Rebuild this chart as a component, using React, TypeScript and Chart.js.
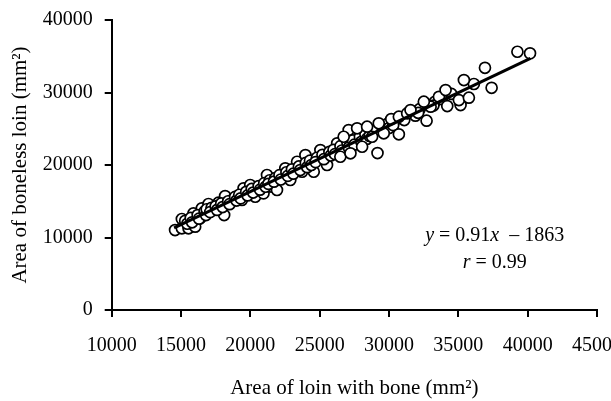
import { useEffect, useRef } from "react";
import { Chart, registerables } from "chart.js";

Chart.register(...registerables);

// Area of loin with bone (mm^2)
const boneAreaX = [
  14570, 15060, 15060, 15540, 16020, 15900, 16380, 16500, 16980, 17340,
  17700, 18110, 18180, 18670, 19390, 19510, 19990, 20350, 20950, 21200,
  21560, 21920, 22280, 22520, 22880, 23370, 23730, 23970, 24570, 25050,
  25530, 26260, 26490, 26860, 27090,
  15300, 15450, 15700, 15800, 16200, 16300, 16700, 16800, 16850, 17200,
  17100, 17500, 17600, 17900, 18000, 18400, 18500, 18900, 19000, 19200,
  19300, 19700, 19800, 20100, 20200, 20600, 20700, 21000, 21100, 21400,
  21300, 21800, 21700, 22100, 22200, 22600, 22700, 23000, 23100, 23500,
  23600, 24000, 24100, 24300, 24400, 24800, 24700, 25200, 25300, 25700,
  25800, 26000, 26100, 26500, 26600, 27000, 27100, 27400, 27500, 27900,
  28000, 28300, 28400, 28700, 28600, 29100, 29500, 29600, 29900, 30000,
  30400, 30300, 30900, 31100, 31800, 31900, 32200, 32100, 32800, 33300,
  33200, 33800, 34500,
  26730, 26490, 27220, 28060, 28780, 29620, 27700, 28420, 29260, 29170,
  30160, 30710, 30710, 31310, 31550, 33000, 32710, 32510, 33600, 34080,
  34200, 35160, 35040, 35760, 36120, 35400, 37400, 36920, 39260, 40170,
];

// Area of boneless loin (mm^2)
const bonelessAreaY = [
  11030, 11270, 12550, 11270, 11490, 13340, 12650, 14020, 14620, 13790,
  14800, 13100, 15720, 15170, 15170, 16780, 17240, 15620, 16090, 18620,
  17000, 16550, 18380, 19540, 17930, 20450, 19070, 21370, 19070, 22060,
  20000, 22990, 21370, 23900, 24820,
  12300, 11900, 12700, 12100, 13100, 12600, 13600, 13100, 13900, 14100,
  13500, 14300, 13800, 14700, 14200, 15000, 14600, 15600, 15100, 15900,
  15400, 16300, 15800, 16700, 16200, 17100, 16600, 17500, 17000, 17900,
  17400, 18200, 17700, 18600, 18000, 19000, 18500, 19400, 18800, 19800,
  19300, 20300, 19700, 20600, 20000, 21000, 20400, 21400, 20800, 21800,
  21300, 22100, 21500, 22600, 22000, 23100, 22400, 23400, 22800, 23900,
  23200, 24200, 23600, 24600, 24000, 24900, 25300, 24700, 25700, 25100,
  26100, 25500, 26500, 26200, 27300, 26800, 27700, 27200, 28300, 28700,
  28200, 29100, 29800,
  23900, 21140, 21610, 22520, 23900, 24370, 25060, 25280, 25750, 21650,
  26340, 26660, 24230, 27120, 27580, 28040, 26110, 28730, 29410, 30340,
  28130, 28270, 28960, 29280, 31170, 31720, 30650, 33410, 35620, 35400,
];

// Fitted line y = 0.91x - 1863 (ends)
const fitX = [14500, 40200];
const fitY = [11332, 34719];

const xTickValues = [10000, 15000, 20000, 25000, 30000, 35000, 40000, 45000];
const yTickValues = [0, 10000, 20000, 30000, 40000];

const xTitle = "Area of loin with bone (mm\u00B2)";
const yTitle = "Area of boneless loin (mm\u00B2)";

const equationLine1: [string, boolean][] = [
  ["y", true],
  [" = 0.91", false],
  ["x", true],
  ["  \u2013 1863", false],
];
const equationLine2: [string, boolean][] = [
  ["r", true],
  [" = 0.99", false],
];
const equationX = 37620;
const equationY1 = 10200;
const equationY2 = 6550;

const FONT = "'Liberation Serif', 'Times New Roman', serif";

const equationPlugin = {
  id: "equationText",
  afterDraw(chart: any) {
    const { ctx, scales } = chart;
    const xs = scales.x;
    const ys = scales.y;
    const drawLine = (parts: [string, boolean][], yv: number) => {
      ctx.save();
      ctx.textBaseline = "middle";
      ctx.textAlign = "left";
      ctx.fillStyle = "#000";
      let total = 0;
      const widths = parts.map(([t, it]) => {
        ctx.font = `${it ? "italic " : ""}20px ${FONT}`;
        const w = ctx.measureText(t).width;
        total += w;
        return w;
      });
      let px = xs.getPixelForValue(equationX) - total / 2;
      const py = ys.getPixelForValue(yv);
      parts.forEach(([t, it], i) => {
        ctx.font = `${it ? "italic " : ""}20px ${FONT}`;
        ctx.fillText(t, px, py);
        px += widths[i];
      });
      ctx.restore();
    };
    drawLine(equationLine1, equationY1);
    drawLine(equationLine2, equationY2);
  },
};

export default function App() {
  const canvasRef = useRef<HTMLCanvasElement | null>(null);

  useEffect(() => {
    if (!canvasRef.current) return;
    const points = boneAreaX.map((x, i) => ({ x, y: bonelessAreaY[i] }));
    const fit = fitX.map((x, i) => ({ x, y: fitY[i] }));
    const chart = new Chart(canvasRef.current, {
      type: "scatter",
      data: {
        datasets: [
          {
            type: "line",
            label: "Fit",
            data: fit,
            borderColor: "#000",
            borderWidth: 3,
            pointRadius: 0,
            showLine: true,
            fill: false,
          } as any,
          {
            label: "Loin",
            data: points,
            backgroundColor: "#fff",
            borderColor: "#000",
            borderWidth: 1.7,
            pointRadius: 5.5,
          },
        ],
      },
      options: {
        responsive: false,
        animation: false,
        events: [],
        layout: { padding: { left: 0, right: 14, top: 20, bottom: 0 } },
        plugins: {
          legend: { display: false },
          tooltip: { enabled: false },
        },
        scales: {
          x: {
            type: "linear",
            min: 10000,
            max: 45000,
            afterBuildTicks: (s: any) => {
              s.ticks = xTickValues.map((v) => ({ value: v }));
            },
            afterFit: (s: any) => {
              s.height = 91;
              s.paddingLeft = 0;
              s.paddingRight = 0;
            },
            ticks: {
              color: "#000",
              font: { family: FONT, size: 20 },
              padding: 17,
              maxRotation: 0,
              autoSkip: false,
              callback: (v: any) => String(v),
            },
            grid: {
              display: true,
              drawOnChartArea: false,
              drawTicks: true,
              tickLength: 7,
              color: "#000",
              lineWidth: 2,
            },
            border: { display: true, color: "#000", width: 2 },
            title: {
              display: true,
              text: xTitle,
              color: "#000",
              font: { family: FONT, size: 21 },
              padding: { top: 0, bottom: 0 },
            },
          },
          y: {
            type: "linear",
            min: 0,
            max: 40000,
            afterBuildTicks: (s: any) => {
              s.ticks = yTickValues.map((v) => ({ value: v }));
            },
            afterFit: (s: any) => {
              s.width = 111.7;
              s.paddingTop = 0;
              s.paddingBottom = 0;
            },
            ticks: {
              color: "#000",
              font: { family: FONT, size: 20 },
              padding: 12,
              callback: (v: any) => String(v),
            },
            grid: {
              display: true,
              drawOnChartArea: false,
              drawTicks: true,
              tickLength: 7,
              color: "#000",
              lineWidth: 2,
            },
            border: { display: true, color: "#000", width: 2 },
            title: {
              display: true,
              text: yTitle,
              color: "#000",
              font: { family: FONT, size: 21 },
              padding: { top: 8, bottom: 0 },
            },
          },
        },
      },
      plugins: [equationPlugin],
    });
    return () => chart.destroy();
  }, []);

  return (
    <div style={{ position: "absolute", left: 0, top: 0, width: 611, height: 401, background: "#fff" }}>
      <canvas ref={canvasRef} width={611} height={401} />
    </div>
  );
}
